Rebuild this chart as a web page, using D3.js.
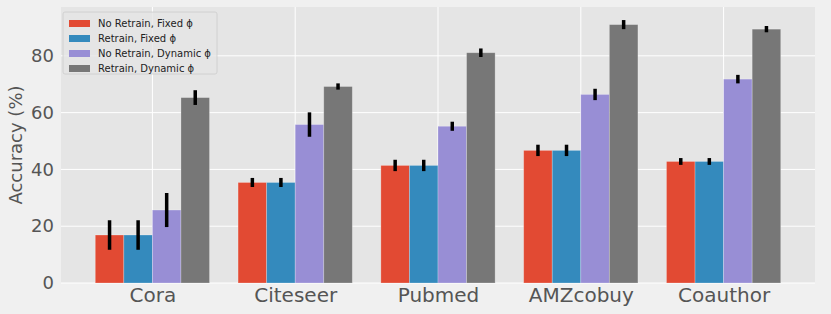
<!DOCTYPE html>
<html>
<head>
<meta charset="utf-8">
<script src="https://cdn.jsdelivr.net/npm/d3@7"></script>
<style>
  body { margin: 0; background: #f0f0f0; }
  svg { display: block; font-family: "DejaVu Sans", sans-serif; }
</style>
</head>
<body>
<div id="chart"></div>
<script>
// datasets on the x axis
const datasets = ["Cora", "Citeseer", "Pubmed", "AMZcobuy", "Coauthor"];
// one entry per bar in each group
const seriesNames = ["No Retrain, Fixed ϕ", "Retrain, Fixed ϕ", "No Retrain, Dynamic ϕ", "Retrain, Dynamic ϕ"];
const seriesColors = ["#E24A33", "#348ABD", "#988ED5", "#777777"];

// mean accuracy per series (same order as datasets)
const noRetrainFixed = [16.9, 35.4, 41.4, 46.7, 42.8];
const retrainFixed = [16.9, 35.4, 41.4, 46.7, 42.8];
const noRetrainDynamic = [25.7, 55.8, 55.2, 66.4, 71.8];
const retrainDynamic = [65.3, 69.2, 81.1, 91.0, 89.4];

// error bar half-lengths
const errNoRetrainFixed = [5.2, 1.6, 2.0, 2.0, 1.2];
const errRetrainFixed = [5.2, 1.6, 2.0, 2.0, 1.2];
const errNoRetrainDynamic = [6.0, 4.3, 1.6, 2.0, 1.5];
const errRetrainDynamic = [2.6, 1.1, 1.5, 1.6, 1.1];

const yTicks = [0, 20, 40, 60, 80];

const values = [noRetrainFixed, retrainFixed, noRetrainDynamic, retrainDynamic];
const errors = [errNoRetrainFixed, errRetrainFixed, errNoRetrainDynamic, errRetrainDynamic];

const W = 831, H = 314;
const margin = { top: 7, right: 16, bottom: 31, left: 61 };
const width = W - margin.left - margin.right;
const height = H - margin.top - margin.bottom;

const svg = d3.select("#chart").append("svg")
    .attr("width", W)
    .attr("height", H);

svg.append("rect").attr("width", W).attr("height", H).attr("fill", "#f0f0f0");

const g = svg.append("g").attr("transform", `translate(${margin.left},${margin.top})`);

g.append("rect").attr("width", width).attr("height", height).attr("fill", "#e5e5e5");

// group index scale, matplotlib-like margins around the bars
const x = d3.scaleLinear().domain([-0.64, datasets.length - 1 + 0.64]).range([0, width]);
const y = d3.scaleLinear().domain([0, 97.2]).range([height, 0]);
const barW = 0.2;

// grid
g.selectAll(".hgrid").data(yTicks).enter().append("line")
    .attr("x1", 0).attr("x2", width)
    .attr("y1", d => y(d)).attr("y2", d => y(d))
    .attr("stroke", "#ffffff").attr("stroke-width", 1);
g.selectAll(".vgrid").data(datasets).enter().append("line")
    .attr("x1", (d, i) => x(i)).attr("x2", (d, i) => x(i))
    .attr("y1", 0).attr("y2", height)
    .attr("stroke", "#ffffff").attr("stroke-width", 1);

// bars
const bars = [];
values.forEach((vals, s) => {
    vals.forEach((v, i) => {
        bars.push({ s: s, i: i, v: v, e: errors[s][i] });
    });
});

g.selectAll(".bar").data(bars).enter().append("rect")
    .attr("x", d => x(d.i + (d.s - 2) * barW))
    .attr("y", d => y(d.v))
    .attr("width", x(barW) - x(0))
    .attr("height", d => y(0) - y(d.v))
    .attr("fill", d => seriesColors[d.s])
    .attr("stroke", "rgba(255,255,255,0.3)")
    .attr("stroke-width", 0.8);

// error bars
g.selectAll(".err").data(bars).enter().append("line")
    .attr("x1", d => x(d.i + (d.s - 1.5) * barW))
    .attr("x2", d => x(d.i + (d.s - 1.5) * barW))
    .attr("y1", d => y(d.v - d.e))
    .attr("y2", d => y(d.v + d.e))
    .attr("stroke", "#000").attr("stroke-width", 3.5);

// axes
const yAxis = g.append("g").call(d3.axisLeft(y).tickValues(yTicks).tickSize(0).tickPadding(7));
yAxis.select(".domain").remove();
yAxis.selectAll("text").attr("fill", "#555555").style("font-size", "18px")
    .style("font-family", "DejaVu Sans, sans-serif");

const xAxis = g.append("g").attr("transform", `translate(0,${height})`)
    .call(d3.axisBottom(x).tickValues(d3.range(datasets.length)).tickFormat(i => datasets[i]).tickSize(0).tickPadding(5));
xAxis.select(".domain").remove();
xAxis.selectAll("text").attr("fill", "#555555").style("font-size", "20px")
    .style("font-family", "DejaVu Sans, sans-serif");

svg.append("text")
    .attr("transform", `translate(22,${margin.top + height / 2}) rotate(-90)`)
    .attr("text-anchor", "middle")
    .attr("fill", "#555555")
    .style("font-size", "18px")
    .text("Accuracy (%)");

// legend
const legend = g.append("g").attr("transform", "translate(2,5)");
legend.append("rect")
    .attr("width", 154).attr("height", 62).attr("rx", 2)
    .attr("fill", "#e5e5e5").attr("fill-opacity", 0.8)
    .attr("stroke", "#cccccc").attr("stroke-width", 0.8);
seriesNames.forEach((name, s) => {
    const row = legend.append("g").attr("transform", `translate(6,${9 + s * 15})`);
    row.append("rect").attr("width", 21).attr("height", 7).attr("y", -1).attr("fill", seriesColors[s]);
    row.append("text").attr("x", 29).attr("y", 6)
        .attr("fill", "#222").style("font-size", "10px").text(name);
});
</script>
</body>
</html>
